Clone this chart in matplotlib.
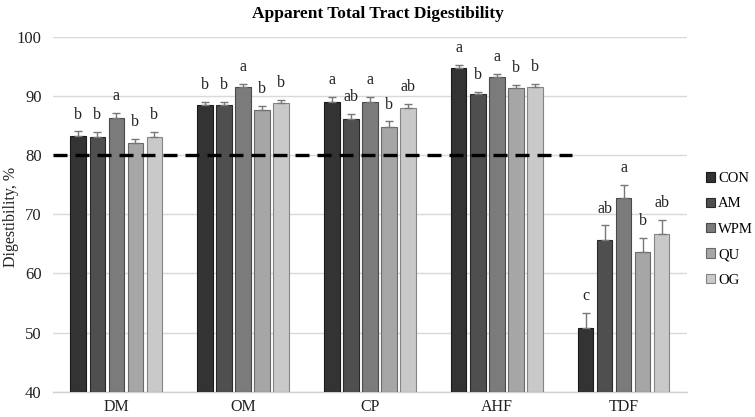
import numpy as np
import matplotlib
matplotlib.use("Agg")
import matplotlib.pyplot as plt
from matplotlib.patches import Patch

plt.rcParams['font.family'] = ['Liberation Serif', 'DejaVu Serif']

categories = ['DM', 'OM', 'CP', 'AHF', 'TDF']
diets = ['CON', 'AM', 'WPM', 'QU', 'OG']

# means per diet, in category order
con = [83.2, 88.4, 88.9, 94.7, 50.8]
am = [83.1, 88.4, 86.1, 90.3, 65.6]
wpm = [86.3, 91.5, 89.0, 93.2, 72.7]
qu = [82.0, 87.7, 84.8, 91.4, 63.6]
og = [83.0, 88.8, 87.9, 91.6, 66.6]

# SEM (upper error bars only)
con_err = [0.8, 0.6, 0.9, 0.5, 2.5]
am_err = [0.8, 0.6, 0.9, 0.4, 2.5]
wpm_err = [0.9, 0.6, 0.9, 0.5, 2.3]
qu_err = [0.8, 0.6, 0.9, 0.5, 2.4]
og_err = [0.9, 0.5, 0.8, 0.4, 2.5]

# significance letters
con_let = ['b', 'b', 'a', 'a', 'c']
am_let = ['b', 'b', 'ab', 'b', 'ab']
wpm_let = ['a', 'a', 'a', 'a', 'a']
qu_let = ['b', 'b', 'b', 'b', 'b']
og_let = ['b', 'b', 'ab', 'b', 'ab']

ref_line = 80

means = [con, am, wpm, qu, og]
errs = [con_err, am_err, wpm_err, qu_err, og_err]
letters = [con_let, am_let, wpm_let, qu_let, og_let]
colors = ['#333333', '#4f4f4f', '#7b7b7b', '#a6a6a6', '#c9c9c9']
edges = ['#1a1a1a', '#2a2a2a', '#4a4a4a', '#6a6a6a', '#858585']

fig = plt.figure(figsize=(7.55, 4.17), dpi=100)
ax = fig.add_axes([0.070, 0.0607, 0.840, 0.851])

x = np.arange(len(categories))
pitch = 0.15
width = 0.122

for i in range(len(diets)):
    pos = x + (i - 2) * pitch
    ax.bar(pos, np.array(means[i]) - 40, bottom=40, width=width,
           color=colors[i], edgecolor=edges[i], linewidth=0.8, zorder=3)
    ax.errorbar(pos, means[i], yerr=[np.zeros(len(x)), errs[i]], fmt='none',
                ecolor='#777777', elinewidth=1.0, capsize=3, capthick=1.0, zorder=4)
    for j in range(len(x)):
        ax.text(pos[j], means[i][j] + errs[i][j] + 1.5, letters[i][j],
                ha='center', va='bottom', fontsize=11.5, color='#222222')

ax.plot([-0.5, 3.59], [ref_line, ref_line], color='black', linewidth=2.4,
        dashes=(4.2, 2.4), zorder=5)

ax.set_xlim(-0.5, 4.5)
ax.set_ylim(40, 100)
ax.set_yticks(range(40, 101, 10))
ax.set_xticks(x)
ax.set_xticklabels(categories, fontsize=11.5)
ax.tick_params(axis='y', length=0, labelsize=12, colors='#222222', pad=8)
ax.tick_params(axis='x', length=0, labelsize=11.5, colors='#222222', pad=5)
ax.grid(axis='y', color='#d9d9d9', linewidth=1.0, zorder=0)
for s in ['left', 'right', 'top']:
    ax.spines[s].set_visible(False)
ax.spines['bottom'].set_color('#d0d0d0')
ax.spines['bottom'].set_linewidth(1.0)

fig.text(0.004, 0.48, 'Digestibility, %', rotation=90, ha='left', va='center',
         fontsize=11.5, color='#222222')
fig.suptitle('Apparent Total Tract Digestibility', fontsize=12.5,
             fontweight='bold', y=0.985)

handles = [Patch(facecolor=colors[i], edgecolor=edges[i], linewidth=0.8)
           for i in range(len(diets))]
fig.legend(handles, diets, loc='center left', bbox_to_anchor=(0.928, 0.45),
           frameon=False, fontsize=10.5, handlelength=0.6, handleheight=0.6,
           handletextpad=0.2, labelspacing=0.85, borderaxespad=0)

fig.savefig('out.png', dpi=100)
